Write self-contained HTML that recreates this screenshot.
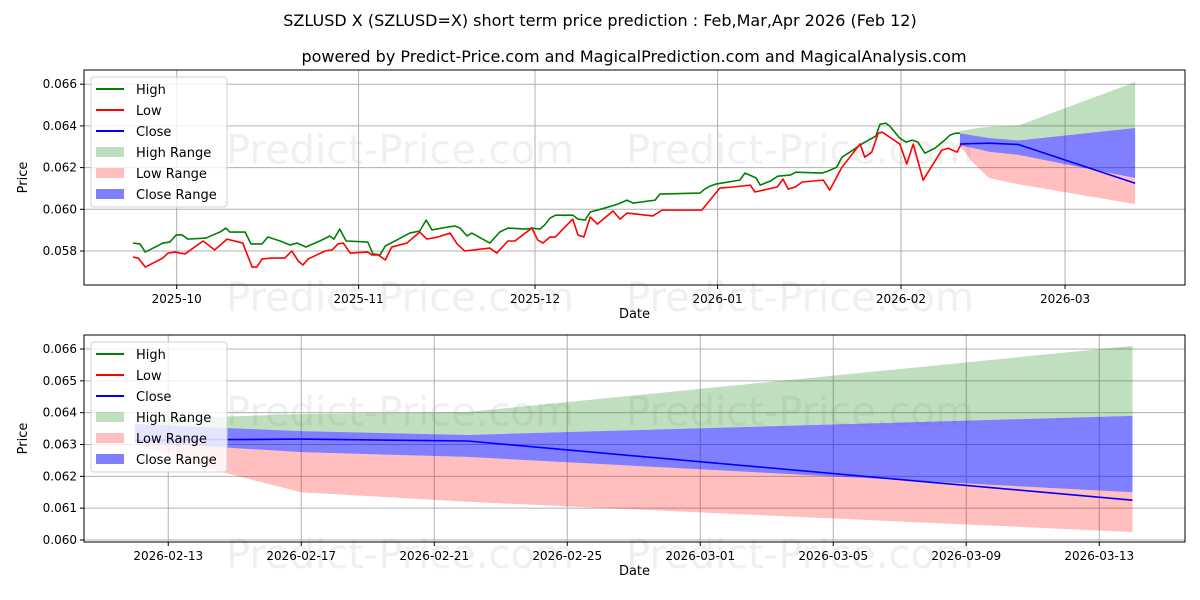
<!DOCTYPE html>
<html><head><meta charset="utf-8"><style>
body{margin:0;background:#fff;}
svg{display:block;font-family:"DejaVu Sans","Liberation Sans",sans-serif;}
</style></head><body>
<svg id="c" width="1200" height="600" viewBox="0 0 1200 600">
<text x="600" y="26" text-anchor="middle" font-size="16">SZLUSD X (SZLUSD=X) short term price prediction : Feb,Mar,Apr 2026 (Feb 12)</text>
<text x="634" y="62" text-anchor="middle" font-size="16">powered by Predict-Price.com and MagicalPrediction.com and MagicalAnalysis.com</text>
<g id="top"></g>
<g id="bot"></g>
</svg>
<script>
// ---- top panel history (day index from start, price) ----
const highDays=[0,1.2,2.1,3.8,5.1,6.3,7.4,8.4,9.4,12.5,13.7,14.9,15.9,16.6,19.2,20.2,22.1,23.1,25.2,26.9,28.1,29.6,32,33.7,34.4,35.4,36.5,40.2,41.1,42.3,43.2,45.2,47.4,49.1,50.2,51.2,53.9,55.1,56,57.2,58,61.1,62.8,64.2,67.3,68.3,69.7,70.5,71.4,72.4,75.3,76.2,77.4,78.3,80.8,83,84.6,85.6,89.4,90.2,97.1,97.9,98.8,99.8,103.9,104.8,106.7,107.4,109.1,110.4,112.5,113.5,118,119,120.5,121.4,123.3,124.5,126.2,127.2,127.9,128.9,129.6,131.3,132.4,133.4,134.4,135.6,137.3,139,139.9,140.8,141.6];
const highVals=[0.05838,0.05834,0.05795,0.05819,0.05838,0.05843,0.05877,0.05877,0.05857,0.05862,0.05877,0.05891,0.05910,0.05891,0.05891,0.05834,0.05834,0.05867,0.05848,0.05829,0.05838,0.05819,0.05848,0.05872,0.05857,0.05905,0.05848,0.05843,0.05786,0.05781,0.05824,0.05853,0.05886,0.05896,0.05948,0.05901,0.05915,0.05920,0.05910,0.05872,0.05886,0.05838,0.05891,0.05910,0.05905,0.05910,0.05905,0.05925,0.05958,0.05972,0.05972,0.05953,0.05948,0.05987,0.06006,0.06025,0.06044,0.06030,0.06044,0.06073,0.06078,0.06097,0.06111,0.06121,0.06140,0.06174,0.06150,0.06116,0.06135,0.06159,0.06164,0.06178,0.06174,0.06183,0.06202,0.06250,0.06284,0.06308,0.06336,0.06351,0.06408,0.06413,0.06399,0.06341,0.06322,0.06332,0.06322,0.06269,0.06293,0.06332,0.06356,0.06365,0.06365];
const lowDays=[0,0.9,2.1,5.1,6,7.2,8.9,12,14,16.1,18.8,20.4,21.2,22.1,23.8,26,27.2,28.3,29.1,30,32.9,34.1,35.1,36,37.2,40.2,40.9,42,43.2,44.3,46.9,49.1,50.3,52.2,54.3,55.5,56.8,61.1,62.3,64.2,65.4,68.3,69.3,70.2,71.4,72.3,75.3,76.2,77.2,78.3,79.5,82.2,83.4,84.6,89,90.6,97.4,100.5,102.7,105.7,106.5,110.3,111.3,112.2,113.4,114.6,118.2,119.3,121.4,124.5,125.3,126.5,127.6,128.3,131.3,132.5,133.6,135.3,138.5,139.6,141.1,141.9];
const lowVals=[0.05771,0.05766,0.05723,0.05766,0.05790,0.05795,0.05786,0.05848,0.05805,0.05857,0.05838,0.05723,0.05723,0.05762,0.05766,0.05766,0.05800,0.05752,0.05733,0.05762,0.05800,0.05805,0.05834,0.05838,0.05790,0.05795,0.05781,0.05781,0.05757,0.05819,0.05838,0.05891,0.05857,0.05867,0.05886,0.05834,0.05800,0.05814,0.05790,0.05848,0.05848,0.05910,0.05853,0.05838,0.05867,0.05867,0.05953,0.05877,0.05867,0.05963,0.05929,0.05992,0.05953,0.05982,0.05968,0.05996,0.05996,0.06102,0.06107,0.06116,0.06083,0.06107,0.06145,0.06097,0.06107,0.06131,0.06140,0.06092,0.06202,0.06313,0.06250,0.06274,0.06365,0.06370,0.06313,0.06217,0.06313,0.06140,0.06284,0.06293,0.06274,0.06317];
const topTickDays=[7.48,38.63,68.84,100.1,131.5,159.6];
const topTickLabels=["2025-10","2025-11","2025-12","2026-01","2026-02","2026-03"];
const forecastStartDay=141.6;
// ---- forecast (days after 2026-02-12) ----
const fDays=[0,1,2,5,10,30];
const fHighUp=[0.06375,0.06380,0.06385,0.06396,0.06402,0.0661];
const fCloseUp=[0.06364,0.0636,0.06355,0.06342,0.0633,0.0639];
const fClose=[0.06313,0.06314,0.06315,0.06317,0.06311,0.06125];
const fCloseLo=[0.06308,0.0630,0.06295,0.06276,0.06261,0.0615];
const fLowLo=[0.0630,0.0627,0.0623,0.0615,0.0612,0.06025];
const botTickDays=[1,5,9,13,17,21,25,29];
const botTickLabels=["2026-02-13","2026-02-17","2026-02-21","2026-02-25","2026-03-01","2026-03-05","2026-03-09","2026-03-13"];
const topYTicks=[0.058,0.060,0.062,0.064,0.066];
const botYTicks=[0.060,0.061,0.062,0.063,0.064,0.065,0.066];

const NS="http://www.w3.org/2000/svg";
function mk(parent,tag,attrs){const e=document.createElementNS(NS,tag);for(const k in attrs)e.setAttribute(k,attrs[k]);parent.appendChild(e);return e;}

function panel(g,L,T,R,B,xs,ys,xTicks,xLabels,yTicks,name){
  mk(g,'rect',{x:L,y:T,width:R-L,height:B-T,fill:'#fff'});
  const wm=[[400,T+(B-T)*0.37],[800,T+(B-T)*0.37],[400,B+12],[800,B+12]];
  wm.forEach(p=>{const t=mk(g,'text',{x:p[0],y:p[1]+14,'text-anchor':'middle','font-size':40,fill:'#f0f0f0'});t.textContent='Predict-Price.com';
    
    });
  xTicks.forEach((d,i)=>{const x=xs(d);
    mk(g,'line',{x1:x,y1:T,x2:x,y2:B,stroke:'#b0b0b0','stroke-width':1});
    mk(g,'line',{x1:x,y1:B,x2:x,y2:B+4,stroke:'#000'});
    const t=mk(g,'text',{x:x,y:B+18,'text-anchor':'middle','font-size':12});t.textContent=xLabels[i];
    
    });
  yTicks.forEach(v=>{const y=ys(v);
    mk(g,'line',{x1:L,y1:y,x2:R,y2:y,stroke:'#b0b0b0','stroke-width':1});
    mk(g,'line',{x1:L-4,y1:y,x2:L,y2:y,stroke:'#000'});
    const t=mk(g,'text',{x:L-7,y:y+4,'text-anchor':'end','font-size':12});t.textContent=v.toFixed(3);
    
    });
  const xt=mk(g,'text',{x:(L+R)/2,y:B+33,'text-anchor':'middle','font-size':13});xt.textContent='Date';
  
  
  const yt=mk(g,'text',{x:27,y:(T+B)/2,'text-anchor':'middle','font-size':13,transform:`rotate(-90 27 ${(T+B)/2})`});yt.textContent='Price';
  
  
}
function area(g,xs,ys,days,up,lo,fill,op,nm){
  let d='M'+days.map((t,i)=>xs(t)+','+ys(up[i])).join('L');
  for(let i=days.length-1;i>=0;i--)d+='L'+xs(days[i])+','+ys(lo[i]);
  const p=mk(g,'path',{d:d+'Z',fill:fill,'fill-opacity':op,stroke:'none'});
  
  
}
function line(g,xs,ys,days,vals,col,nm){
  const p=mk(g,'polyline',{points:days.map((t,i)=>xs(t)+','+ys(vals[i])).join(' '),fill:'none',stroke:col,'stroke-width':1.6,'stroke-linejoin':'round'});
  
  
}
function legend(g,x,y){
  const box=mk(g,'rect',{x:x,y:y,width:136,height:130,rx:3,fill:'#fff','fill-opacity':0.8,stroke:'#d0d0d0'});
  
  
  const items=[['High','line','#008000'],['Low','line','#ff0000'],['Close','line','#0000ff'],['High Range','fill','rgba(0,128,0,0.25)'],['Low Range','fill','rgba(255,0,0,0.25)'],['Close Range','fill','rgba(0,0,255,0.5)']];
  items.forEach((it,i)=>{const cy=y+12+i*21;
    if(it[1]==='line')mk(g,'line',{x1:x+5,y1:cy,x2:x+33,y2:cy,stroke:it[2],'stroke-width':2});
    else mk(g,'rect',{x:x+5,y:cy-5,width:28,height:10,fill:it[2]});
    const t=mk(g,'text',{x:x+45,y:cy+5,'font-size':13});t.textContent=it[0];
    
    });
}

(function(){
  const g=document.getElementById('top');const L=84,T=70,R=1185,B=285;
  const xs=d=>133+5.84*d;
  const ys=v=>251-(v-0.058)/0.001*20.85;
  panel(g,L,T,R,B,xs,ys,topTickDays,topTickLabels,topYTicks,'top');
  const fd=fDays.map(d=>forecastStartDay+d);
  area(g,xs,ys,fd,fHighUp,fCloseUp,'#008000',0.25,'high-range-top');
  area(g,xs,ys,fd,fCloseLo,fLowLo,'#ff0000',0.25,'low-range-top');
  area(g,xs,ys,fd,fCloseUp,fCloseLo,'#0000ff',0.5,'close-range-top');
  line(g,xs,ys,highDays,highVals,'#008000','high-line-top');
  line(g,xs,ys,lowDays,lowVals,'#ff0000','low-line-top');
  line(g,xs,ys,fd,fClose,'#0000ff','close-line-top');
  mk(g,'rect',{x:L,y:T,width:R-L,height:B-T,fill:'none',stroke:'#000','stroke-width':1});
  legend(g,91,77);
})();
(function(){
  const g=document.getElementById('bot');const L=84,T=335,R=1185,B=542;
  const xs=d=>135+33.25*d;
  const ys=v=>540-(v-0.060)/0.001*31.83;
  panel(g,L,T,R,B,xs,ys,botTickDays,botTickLabels,botYTicks,'bottom');
  area(g,xs,ys,fDays,fHighUp,fCloseUp,'#008000',0.25,'high-range-bottom');
  area(g,xs,ys,fDays,fCloseLo,fLowLo,'#ff0000',0.25,'low-range-bottom');
  area(g,xs,ys,fDays,fCloseUp,fCloseLo,'#0000ff',0.5,'close-range-bottom');
  line(g,xs,ys,fDays,fClose,'#0000ff','close-line-bottom');
  mk(g,'rect',{x:L,y:T,width:R-L,height:B-T,fill:'none',stroke:'#000','stroke-width':1});
  legend(g,91,342);
})();
</script>
</body></html>
